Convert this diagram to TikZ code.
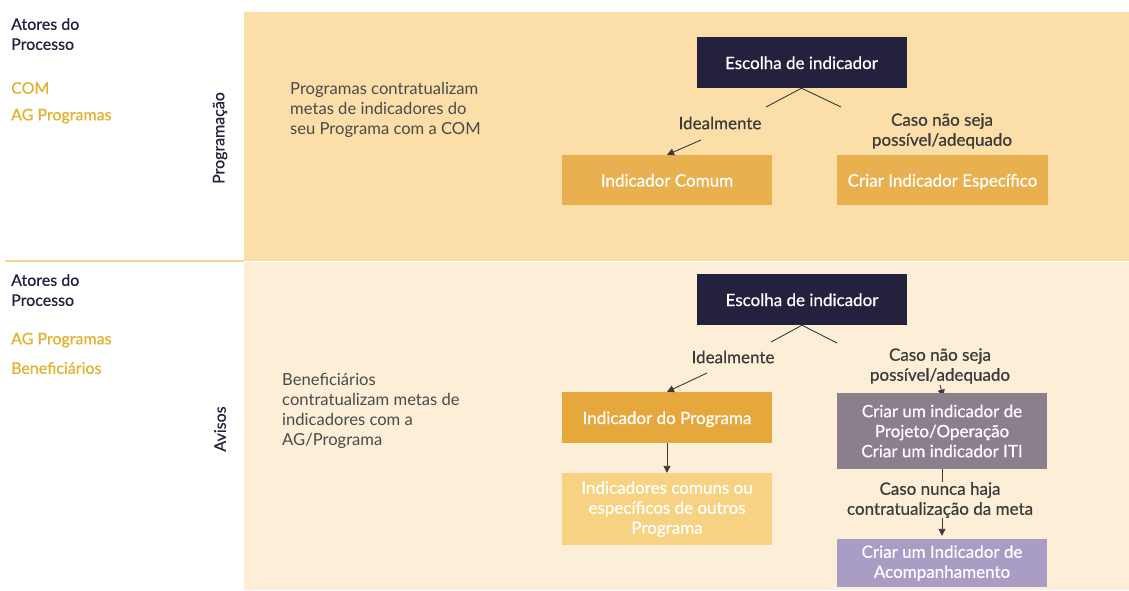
\documentclass[tikz,border=0pt]{standalone}
\usepackage{fontspec}
\setmainfont{Lato}
\newfontfamily\semib{Lato}[FakeBold=0.5]
\usetikzlibrary{arrows.meta}
\pgfdeclarelayer{back}
\pgfdeclarelayer{behind}
\pgfsetlayers{back,behind,main}
\definecolor{navy}{HTML}{24213F}
\definecolor{topbg}{HTML}{FCDEA9}
\definecolor{botbg}{HTML}{FDEFD7}
\definecolor{goldtxt}{HTML}{E3B12E}
\definecolor{boxgold}{HTML}{E8B04E}
\definecolor{boxprog}{HTML}{E6A83C}
\definecolor{boxlight}{HTML}{F8D283}
\definecolor{boxpurple}{HTML}{8B7F8E}
\definecolor{boxlav}{HTML}{A99CC5}
\definecolor{sepline}{HTML}{F6D590}
\definecolor{txtgray}{HTML}{3A3A3A}
\definecolor{desc}{HTML}{4A4A4A}
\tikzset{
  boxbase/.style={draw=none, text=white, align=center, inner sep=0pt,
    font=\semib\fontsize{17}{20}\selectfont, minimum width=210pt},
  oneline/.style={text height=15pt, text depth=2pt},
  lbl/.style={text=txtgray, align=center, inner sep=1pt, font=\semib\fontsize{17}{20}\selectfont},
  actor/.style={anchor=west, inner sep=0pt, align=left, text=navy, font=\semib\fontsize{16}{20}\selectfont},
  actorgold/.style={anchor=west, inner sep=0pt, text=goldtxt, font=\semib\fontsize{16}{20}\selectfont},
  phase/.style={rotate=90, inner sep=0pt, text=navy, font=\semib\fontsize{16}{20}\selectfont},
  descr/.style={anchor=west, inner sep=0pt, align=left, text=desc, font=\fontsize{16.6}{20}\selectfont},
  conn/.style={draw=txtgray, line width=0.9pt},
  arr/.style={conn, -{Triangle[length=7pt,width=7pt]}}
}
\begin{document}
\begin{tikzpicture}[x=1pt,y=-1pt]
\useasboundingbox (0,0) rectangle (1129,590);
\begin{pgfonlayer}{back}
\fill[white] (0,0) rectangle (1129,590);
\fill[topbg] (244,12) rectangle (1129,261);
\fill[botbg] (244,262) rectangle (1129,590);
\draw[sepline, line width=1.6pt] (5,261) -- (244,261);
\end{pgfonlayer}

% left column top
\node[actor] (act1) at (11,34) {Atores do\\Processo};
\node[actorgold] (com1) at (11,88) {COM};
\node[actorgold] (ag1) at (11,116) {AG Programas};
\node[phase] (ph1) at (220,138) {Programação};
\node[descr] (d1) at (290,109.5) {Programas contratualizam\\metas de indicadores do\\seu Programa com a COM};

% left column bottom
\node[actor] (act2) at (11,290) {Atores do\\Processo};
\node[actorgold] (ag2) at (11,340) {AG Programas};
\node[actorgold] (ben2) at (11,368) {Beneficiários};
\node[phase] (ph2) at (220,429) {Avisos};
\node[descr] (d2) at (282,411) {Beneficiários\\contratualizam metas de\\indicadores com a\\AG/Programa};

% top diagram
\node[boxbase, oneline, fill=navy, minimum height=51pt] (esc1) at (801.5,62.5) {Escolha de indicador};
\node[boxbase, oneline, fill=boxgold, minimum height=50pt] (comum) at (667,180) {Indicador Comum};
\node[boxbase, oneline, fill=boxgold, minimum height=50pt, minimum width=211pt] (espec) at (942.5,180) {Criar Indicador Específico};
\coordinate (f1l) at (766,107);
\coordinate (f1r) at (841,107);
\draw[conn] (f1l) -- (esc1.south) -- (f1r);
\node[lbl] (ideal1) at (720,123) {Idealmente};
\node[lbl] (caso1) at (942,131) {Caso não seja\\possível/adequado};
\coordinate (a1) at (701,140);
\draw[arr] (a1) -- (comum.north);

% bottom diagram
\node[boxbase, oneline, fill=navy, minimum height=51pt] (esc2) at (802,299.5) {Escolha de indicador};
\node[boxbase, oneline, fill=boxprog, minimum height=51pt] (prog) at (667,417.5) {Indicador do Programa};
\node[boxbase, fill=boxlight, minimum height=72pt] (outros) at (667,509) {Indicadores comuns ou\\específicos de outros\\Programa};
\node[boxbase, fill=boxpurple, minimum height=76pt] (proj) at (942,431) {Criar um indicador de\\Projeto/Operação\\Criar um indicador ITI};
\node[boxbase, fill=boxlav, minimum height=48pt] (acomp) at (942,563) {Criar um Indicador de\\Acompanhamento};
\coordinate (f2l) at (771,342);
\coordinate (f2r) at (837,343);
\draw[conn] (f2l) -- (esc2.south) -- (f2r);
\node[lbl] (ideal2) at (733,357) {Idealmente};
\node[lbl] (caso2) at (940,366) {Caso não seja\\possível/adequado};
\coordinate (a2) at (707,373);
\draw[arr] (a2) -- (prog.north);
\draw[arr] (prog.south) -- (outros.north);
\begin{pgfonlayer}{behind}
\draw[arr, shorten >=-4pt] (caso2.south) -- (proj.north);
\end{pgfonlayer}
\draw[arr, shorten >=3pt] (proj.south) -- (acomp.north);
\node[lbl, fill=botbg, inner sep=0pt] (nunca) at (940,500) {Caso nunca haja\\contratualização da meta};
\end{tikzpicture}
\end{document}
